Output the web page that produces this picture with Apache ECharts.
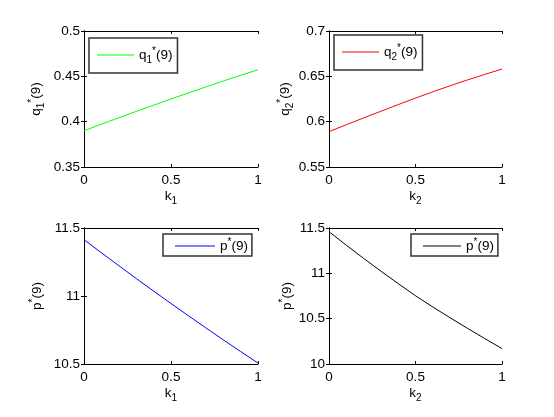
<!DOCTYPE html>
<html>
<head>
<meta charset="utf-8">
<script src="https://cdn.jsdelivr.net/npm/echarts@6/dist/echarts.min.js"></script>
<style>
    html, body { margin: 0; padding: 0; background: #fff; }
    #chartDiv { width: 554px; height: 417px; }
</style>
</head>
<body>
<div id="chartDiv"></div>
<script>
// values
var kValues = [0, 0.1, 0.2, 0.3, 0.4, 0.5, 0.6, 0.7, 0.8, 0.9, 1];
var q1Values = [0.3900, 0.3972, 0.4043, 0.4113, 0.4182, 0.4250, 0.4317, 0.4383, 0.4448, 0.4511, 0.4572];
var q2Values = [0.5890, 0.5966, 0.6041, 0.6115, 0.6188, 0.6260, 0.6329, 0.6396, 0.6460, 0.6521, 0.6580];
var p1Values = [11.414, 11.318, 11.223, 11.129, 11.036, 10.945, 10.855, 10.766, 10.678, 10.592, 10.507];
var p2Values = [11.460, 11.310, 11.165, 11.024, 10.887, 10.753, 10.629, 10.510, 10.394, 10.281, 10.170];

var yRanges = [[0.35, 0.5, 0.05], [0.55, 0.7, 0.05], [10.5, 11.5, 0.5], [10, 11.5, 0.5]];

var seriesNames = ['q1', 'q2', 'p1', 'p2'];
var seriesColors = ['#00ff00', '#ff0000', '#0000ff', '#000000'];
var labelText = {
    q1: 'q{sub|1}{sup|*}(9)',
    q2: 'q{sub|2}{sup|*}(9)',
    p1: 'p{sup|*}(9)',
    p2: 'p{sup|*}(9)'
};
var xNames = ['k{sub|1}', 'k{sub|2}', 'k{sub|1}', 'k{sub|2}'];

var FONT = 'Liberation Sans, Arial, sans-serif';
var FS = 13.5;
var rich = {
    sub: { fontSize: 10, fontFamily: FONT, color: '#000', padding: [10, 0, 0, 0] },
    sup: { fontSize: 10, fontFamily: FONT, color: '#000', padding: [0, 0, 8, 0] }
};

// plot boxes: [left, top, width, height]
var boxes = [[84, 31, 174, 136], [329, 31, 173, 136], [84, 228, 174, 136], [329, 228, 173, 136]];
var yNameGaps = [38, 30, 38, 33];
// legend boxes: [left, top, itemWidth]
var legendPos = [[89, 38, 37], [334, 35, 37], [163, 234, 40], [411, 234, 38]];

var option = {
    animation: false,
    backgroundColor: '#fff',
    textStyle: { fontFamily: FONT },
    grid: [], xAxis: [], yAxis: [], legend: [], series: []
};

boxes.forEach(function (b, i) {
    option.grid.push({ left: b[0], top: b[1], width: b[2], height: b[3], containLabel: false });
    var axisLine = { show: true, lineStyle: { color: '#000', width: 1 } };
    var tick = { show: true, inside: true, length: 3, lineStyle: { color: '#000' } };
    option.xAxis.push({
        type: 'value', gridIndex: i, position: 'bottom', min: 0, max: 1, interval: 0.5,
        axisLine: axisLine, axisTick: tick, splitLine: { show: false },
        axisLabel: { color: '#000', fontSize: FS, fontFamily: FONT, margin: 6 },
        name: xNames[i], nameLocation: 'middle', nameGap: 19,
        nameTextStyle: { color: '#000', fontSize: FS, fontFamily: FONT, rich: rich }
    });
    option.yAxis.push({
        type: 'value', gridIndex: i, position: 'left',
        min: yRanges[i][0], max: yRanges[i][1], interval: yRanges[i][2],
        axisLine: axisLine, axisTick: tick, splitLine: { show: false },
        axisLabel: { color: '#000', fontSize: FS, fontFamily: FONT, margin: 4 },
        name: labelText[seriesNames[i]], nameLocation: 'middle', nameGap: yNameGaps[i],
        nameTextStyle: { color: '#000', fontSize: FS, fontFamily: FONT, rich: rich }
    });
});
// box on: top and right axes with inside ticks
boxes.forEach(function (b, i) {
    var axisLine = { show: true, lineStyle: { color: '#000', width: 1 } };
    var tick = { show: true, inside: true, length: 3, lineStyle: { color: '#000' } };
    option.xAxis.push({
        type: 'value', gridIndex: i, position: 'top', min: 0, max: 1, interval: 0.5,
        axisLine: axisLine, axisTick: tick, axisLabel: { show: false }, splitLine: { show: false }
    });
    option.yAxis.push({
        type: 'value', gridIndex: i, position: 'right',
        min: yRanges[i][0], max: yRanges[i][1], interval: yRanges[i][2],
        axisLine: axisLine, axisTick: tick, axisLabel: { show: false }, splitLine: { show: false }
    });
});

var allValues = [q1Values, q2Values, p1Values, p2Values];
seriesNames.forEach(function (name, i) {
    option.series.push({
        name: name,
        type: 'line',
        xAxisIndex: i,
        yAxisIndex: i,
        symbol: 'none',
        color: seriesColors[i],
        lineStyle: { color: seriesColors[i], width: 1 },
        data: kValues.map(function (k, j) { return [k, allValues[i][j]]; })
    });
    var lp = legendPos[i];
    option.legend.push({
        data: [{ name: name, icon: 'rect' }],
        left: lp[0], top: lp[1],
        orient: 'vertical',
        itemWidth: lp[2], itemHeight: 1, itemGap: 0,
        padding: i < 2 ? [8, 5, 8, 8] : [3, 4, 3, 12],
        backgroundColor: '#fff',
        borderColor: '#333', borderWidth: 1.5,
        selectedMode: false,
        formatter: function (n) { return labelText[n]; },
        textStyle: { color: '#000', fontSize: FS, fontFamily: FONT, rich: rich }
    });
});

var myChart = echarts.init(document.getElementById('chartDiv'));
myChart.setOption(option);
</script>
</body>
</html>
